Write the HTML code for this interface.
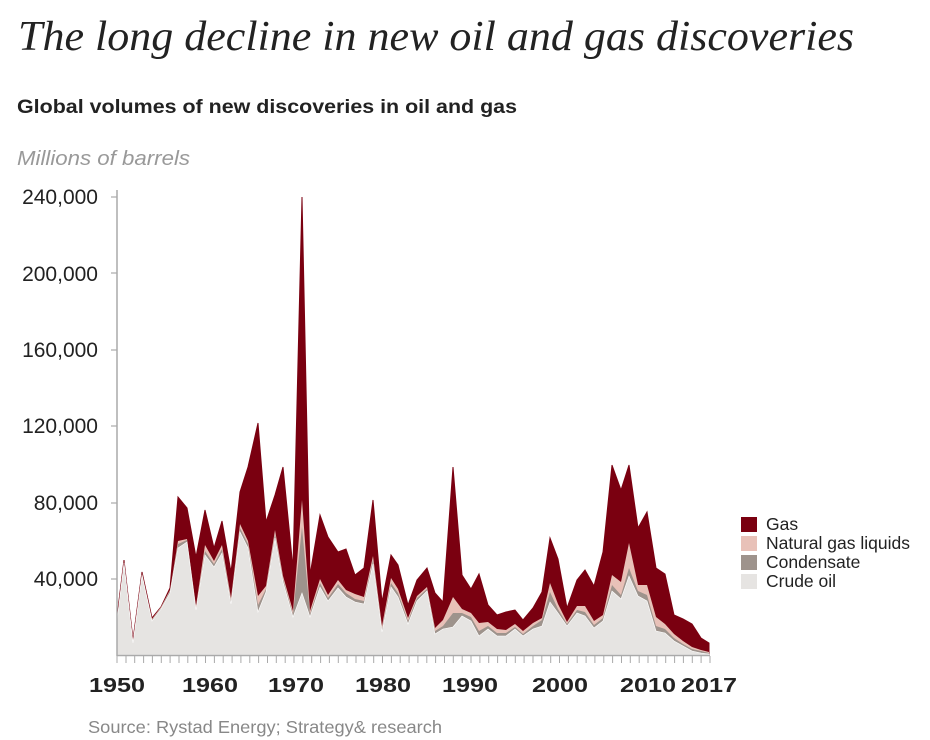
<!DOCTYPE html>
<html><head><meta charset="utf-8"><style>
body{margin:0;background:#fff;width:930px;height:740px;overflow:hidden}
svg{display:block}
</style></head><body>
<svg width="930" height="740" xmlns="http://www.w3.org/2000/svg">
<text x="18" y="50" font-family="Liberation Serif, serif" font-style="italic" font-size="42" fill="#222" textLength="836" lengthAdjust="spacingAndGlyphs">The long decline in new oil and gas discoveries</text>
<text x="17" y="113" font-family="Liberation Sans, sans-serif" font-weight="bold" font-size="19" fill="#222" textLength="500" lengthAdjust="spacingAndGlyphs">Global volumes of new discoveries in oil and gas</text>
<text x="17" y="165" font-family="Liberation Sans, sans-serif" font-style="italic" font-size="20" fill="#999" textLength="173" lengthAdjust="spacingAndGlyphs">Millions of barrels</text>
<g font-family="Liberation Sans, sans-serif" font-size="21" fill="#222" text-anchor="end">
<text x="98" y="204">240,000</text><text x="98" y="281">200,000</text><text x="98" y="357">160,000</text><text x="98" y="433">120,000</text><text x="98" y="510">80,000</text><text x="98" y="586">40,000</text>
</g>
<g stroke="#999" stroke-width="1">
<line x1="111" y1="197" x2="117" y2="197"/><line x1="111" y1="273" x2="117" y2="273"/><line x1="111" y1="350" x2="117" y2="350"/><line x1="111" y1="426" x2="117" y2="426"/><line x1="111" y1="503" x2="117" y2="503"/><line x1="111" y1="579" x2="117" y2="579"/>
</g>
<polygon fill="#7a0010" stroke="#7a0010" stroke-width="1" points="117,655 117,617 124,560 133,640 142,572 152,618 161,607 170,588 178,497 187,508 196,557 205,510 214,548 222,521 231,572 240,492 248,467 258,423 266,522 275,495 283,467 293,568 302,197 310,575 320,515 328,537 338,552 346,549 355,575 364,568 373,500 382,602 391,555 398,565 408,605 417,580 427,568 435,593 443,602 453,467 462,575 471,589 479,574 488,605 497,615 506,612 515,610 523,620 533,608 542,592 550,538 558,559 567,608 577,580 585,570 594,586 603,552 612,465 621,490 629,465 638,528 647,512 656,568 665,574 674,615 683,619 692,624 701,638 709,643 709,655"/>
<polygon fill="#e8c1b8" points="117,655 117,619 124,561 133,641 142,573 152,619 161,607 170,590 178,541 187,539 196,606 205,545 214,561 222,545 231,598 240,524 248,541 258,596 266,586 275,530 283,576 293,611 302,500 310,611 320,579 328,595 338,580 346,590 355,594 364,597 373,556 382,626 391,578 398,589 408,618 417,596 427,587 435,628 443,620 453,597 462,609 471,613 479,623 488,622 497,629 506,630 515,624 523,631 533,623 542,618 550,583 558,604 567,622 577,606 585,606 594,621 603,615 612,575 621,582 629,543 638,585 647,585 656,617 665,624 674,634 683,641 692,647 701,650 709,652 709,655"/>
<polygon fill="#9e938c" points="117,655 117,620 124,562 133,642 142,574 152,620 161,608 170,591 178,544 187,540 196,608 205,551 214,564 222,549 231,601 240,528 248,544 258,605 266,589 275,534 283,579 293,614 302,527 310,614 320,583 328,598 338,584 346,593 355,599 364,601 373,560 382,629 391,583 398,593 408,621 417,598 427,589 435,631 443,626 453,613 462,613 471,617 479,631 488,626 497,633 506,633 515,627 523,634 533,626 542,620 550,592 558,609 567,624 577,610 585,612 594,625 603,618 612,585 621,595 629,568 638,591 647,595 656,626 665,629 674,638 683,644 692,649 701,651 709,653 709,655"/>
<polygon fill="#e6e4e2" stroke="#fff" stroke-width="0.6" points="117,655 117,621 124,563 133,643 142,575 152,621 161,609 170,593 178,548 187,542 196,610 205,555 214,567 222,553 231,604 240,532 248,548 258,612 266,592 275,538 283,582 293,617 302,593 310,617 320,587 328,601 338,588 346,597 355,602 364,604 373,564 382,632 391,587 398,597 408,624 417,601 427,591 435,634 443,629 453,627 462,616 471,621 479,636 488,629 497,636 506,636 515,629 523,636 533,629 542,626 550,602 558,613 567,626 577,613 585,616 594,628 603,621 612,591 621,599 629,576 638,596 647,601 656,631 665,633 674,641 683,646 692,651 701,653 709,654 709,655"/>
<line x1="117" y1="190" x2="117" y2="656" stroke="#aaa" stroke-width="1.5"/>
<line x1="117" y1="655.5" x2="710" y2="655.5" stroke="#aaa" stroke-width="1.5"/>
<g stroke="#aaa" stroke-width="1">
<path d="M117,656v7M126,656v7M134.7,656v7M143.6,656v7M152.4,656v7M161.3,656v7M170.1,656v7M179,656v7M187.8,656v7M196.7,656v7M205.5,656v7M214.4,656v7M223.2,656v7M232.1,656v7M240.9,656v7M249.8,656v7M258.6,656v7M267.5,656v7M276.3,656v7M285.2,656v7M294,656v7M302.9,656v7M311.7,656v7M320.6,656v7M329.4,656v7M338.3,656v7M347.1,656v7M356,656v7M364.8,656v7M373.7,656v7M382.5,656v7M391.4,656v7M400.2,656v7M409.1,656v7M417.9,656v7M426.8,656v7M435.6,656v7M444.5,656v7M453.3,656v7M462.2,656v7M471,656v7M479.9,656v7M488.7,656v7M497.6,656v7M506.4,656v7M515.3,656v7M524.1,656v7M533,656v7M541.8,656v7M550.7,656v7M559.5,656v7M568.4,656v7M577.2,656v7M586.1,656v7M594.9,656v7M603.8,656v7M612.6,656v7M621.5,656v7M630.3,656v7M639.2,656v7M648,656v7M656.9,656v7M665.7,656v7M674.6,656v7M683.4,656v7M692.3,656v7M701.1,656v7M710,656v7"/>
</g>
<g font-family="Liberation Sans, sans-serif" font-weight="bold" font-size="20" fill="#222" text-anchor="middle">
<text x="117" y="692" textLength="56" lengthAdjust="spacingAndGlyphs">1950</text><text x="210" y="692" textLength="56" lengthAdjust="spacingAndGlyphs">1960</text><text x="296" y="692" textLength="56" lengthAdjust="spacingAndGlyphs">1970</text><text x="383" y="692" textLength="56" lengthAdjust="spacingAndGlyphs">1980</text><text x="470" y="692" textLength="56" lengthAdjust="spacingAndGlyphs">1990</text><text x="560" y="692" textLength="56" lengthAdjust="spacingAndGlyphs">2000</text><text x="648" y="692" textLength="56" lengthAdjust="spacingAndGlyphs">2010</text><text x="709" y="692" textLength="56" lengthAdjust="spacingAndGlyphs">2017</text>
</g>
<g font-family="Liberation Sans, sans-serif" font-size="17.5" fill="#222">
<rect x="741" y="517" width="16" height="15" fill="#7a0010"/><text x="766" y="530">Gas</text>
<rect x="741" y="536" width="16" height="15" fill="#e8c1b8"/><text x="766" y="549">Natural gas liquids</text>
<rect x="741" y="555" width="16" height="15" fill="#9e938c"/><text x="766" y="568">Condensate</text>
<rect x="741" y="574" width="16" height="15" fill="#e6e4e2"/><text x="766" y="587">Crude oil</text>
</g>
<text x="88" y="733" font-family="Liberation Sans, sans-serif" font-size="17.5" fill="#888" textLength="354" lengthAdjust="spacingAndGlyphs">Source: Rystad Energy; Strategy&amp; research</text>
</svg>
</body></html>
